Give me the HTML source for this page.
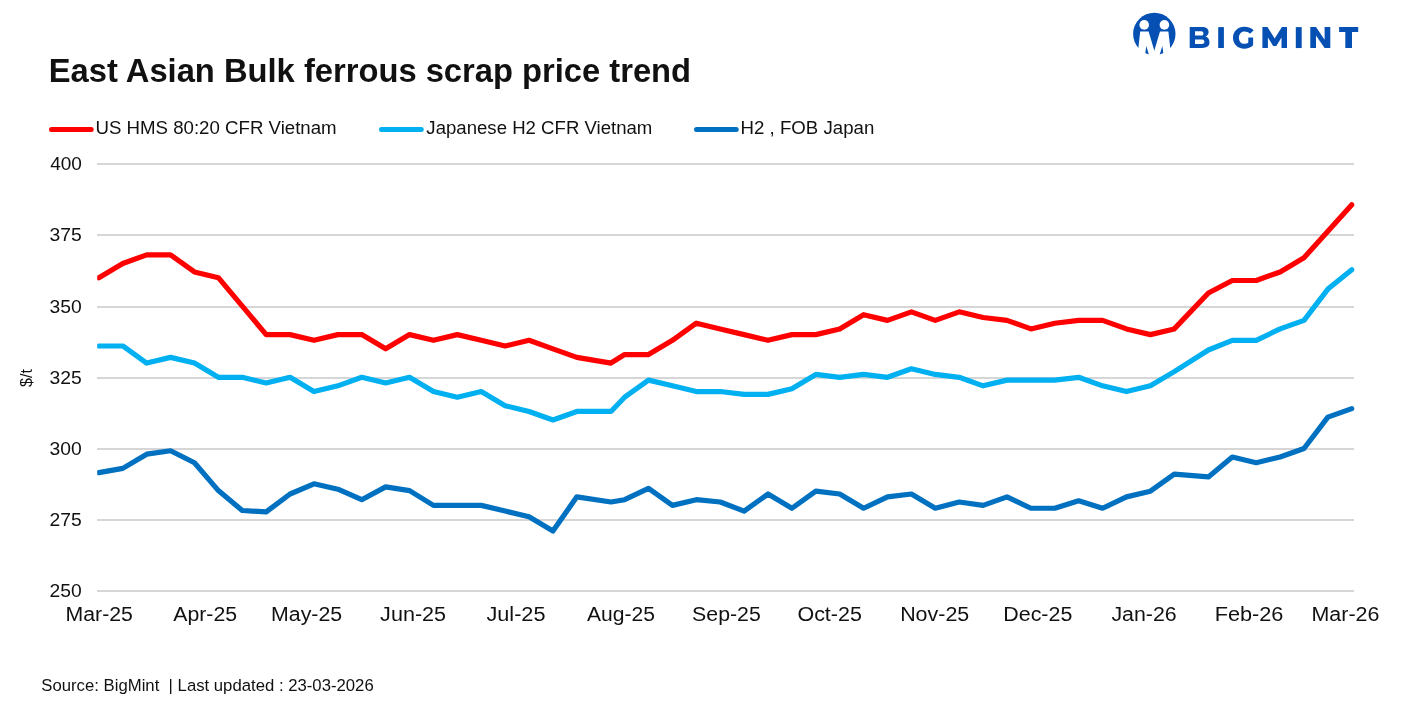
<!DOCTYPE html>
<html><head><meta charset="utf-8"><title>East Asian Bulk ferrous scrap price trend</title>
<style>
html,body{margin:0;padding:0;background:#fff;}
body{width:1417px;height:708px;overflow:hidden;}
svg{display:block;will-change:transform;}
text{font-family:"Liberation Sans",sans-serif;fill:#111;}
.yl{font-size:18.4px;}
.xl{font-size:20px;}
.lg{font-size:18.75px;}
</style></head>
<body>
<svg width="1417" height="708" viewBox="0 0 1417 708">
<rect width="1417" height="708" fill="#fff"/>
<defs>
<clipPath id="plot"><rect x="97.2" y="100" width="1257.5" height="520"/></clipPath>
<clipPath id="lc"><circle cx="1154.3" cy="33.9" r="21.2"/></clipPath>
</defs>
<!-- logo -->
<circle cx="1154.3" cy="33.9" r="21.2" fill="#0650b4"/>
<circle cx="1144.2" cy="24.9" r="4.8" fill="#fff"/>
<circle cx="1164.4" cy="24.9" r="4.8" fill="#fff"/>
<polygon points="1140.2,31.5 1148.6,31.5 1157.4,61 1136.9,61" fill="#fff"/>
<polygon points="1168.4,31.5 1160.0,31.5 1151.2,61 1171.7,61" fill="#fff"/>
<g clip-path="url(#lc)">
<polygon points="1146.3,45.9 1150.5,60 1144.3,60" fill="#0650b4"/>
<polygon points="1162.3,45.9 1158.1,60 1164.3,60" fill="#0650b4"/>
</g>
<g fill="#0650b4">
<path fill-rule="evenodd" d="M1189.7,27 L1202.5,27 C1206.5,27 1208.6,29.3 1208.6,32 C1208.6,34.2 1207.4,35.8 1205.6,36.6 C1208,37.4 1209.5,39.5 1209.5,42.2 C1209.5,45.8 1206.8,47.9 1202.3,47.9 L1189.7,47.9 Z M1195,31.3 L1201.5,31.3 C1202.8,31.3 1203.4,32.3 1203.4,33.4 C1203.4,34.6 1202.8,35.5 1201.5,35.5 L1195,35.5 Z M1195,39.5 L1202.3,39.5 C1203.6,39.5 1204.4,40.5 1204.4,41.8 C1204.4,43.1 1203.6,44 1202.3,44 L1195,44 Z"/>
<rect x="1218.2" y="27.1" width="5.7" height="20.9"/>
<path d="M1253.7,30.3 C1251.7,28.1 1248.2,26.77 1244.2,26.77 C1237.8,26.77 1232.97,31.5 1232.97,37.75 C1232.97,44 1237.8,48.7 1244.2,48.7 C1247.6,48.7 1251,47.5 1253.1,45.3 L1253.1,37.45 L1248.3,37.45 L1248.3,42.4 C1247.2,43.4 1245.8,43.85 1244.3,43.85 C1241.2,43.85 1238.9,41.3 1238.9,37.7 C1238.9,34.1 1241.2,31.5 1244.3,31.5 C1246.6,31.5 1248.8,32.3 1250,33.7 Z"/>
<polygon points="1262.4,48.05 1262.4,27.1 1267.5,27.1 1274.7,38.5 1281.9,27.1 1287,27.1 1287,48.05 1281.5,48.05 1281.5,37.4 1276.3,45.9 1273.1,45.9 1267.9,37.4 1267.9,48.05"/>
<rect x="1295.8" y="27.1" width="5.9" height="20.95"/>
<polygon points="1310.3,48.05 1310.3,27.1 1316,27.1 1324.6,39.7 1324.6,27.1 1330.3,27.1 1330.3,48.05 1324.6,48.05 1316,35.5 1316,48.05"/>
<polygon points="1339.1,27.1 1358.2,27.1 1358.2,31.9 1352,31.9 1352,48.05 1345.3,48.05 1345.3,31.9 1339.1,31.9"/>
</g>
<!-- title -->
<!-- legend -->
<line x1="51.5" y1="129.6" x2="91.2" y2="129.6" stroke="#ff0000" stroke-width="5" stroke-linecap="round"/>
<line x1="381.5" y1="129.6" x2="421.2" y2="129.6" stroke="#00b0f0" stroke-width="5" stroke-linecap="round"/>
<line x1="696.5" y1="129.6" x2="736.2" y2="129.6" stroke="#0070c0" stroke-width="5" stroke-linecap="round"/>
<!-- grid -->
<rect x="97" y="163" width="1257" height="2" fill="#d6d6d6"/><rect x="97" y="234" width="1257" height="2" fill="#d6d6d6"/><rect x="97" y="306" width="1257" height="2" fill="#d6d6d6"/><rect x="97" y="377" width="1257" height="2" fill="#d6d6d6"/><rect x="97" y="448" width="1257" height="2" fill="#d6d6d6"/><rect x="97" y="519" width="1257" height="2" fill="#d6d6d6"/><rect x="97" y="590" width="1257" height="2" fill="#d6d6d6"/>
<text x="48.81" y="82.40" font-size="32.6" font-weight="bold" textLength="642.28" lengthAdjust="spacingAndGlyphs" xml:space="preserve">East Asian Bulk ferrous scrap price trend</text>
<text x="95.44" y="133.70" font-size="18.75" textLength="241.19" lengthAdjust="spacingAndGlyphs" xml:space="preserve">US HMS 80:20 CFR Vietnam</text>
<text x="426.37" y="133.70" font-size="18.75" textLength="226.01" lengthAdjust="spacingAndGlyphs" xml:space="preserve">Japanese H2 CFR Vietnam</text>
<text x="740.61" y="133.70" font-size="18.75" textLength="133.65" lengthAdjust="spacingAndGlyphs" xml:space="preserve">H2 , FOB Japan</text>
<text x="41.32" y="691.00" font-size="16.9" textLength="332.37" lengthAdjust="spacingAndGlyphs" xml:space="preserve">Source: BigMint  | Last updated : 23-03-2026</text>
<text x="65.55" y="620.60" font-size="20" textLength="67.42" lengthAdjust="spacingAndGlyphs" xml:space="preserve">Mar-25</text>
<text x="173.29" y="620.60" font-size="20" textLength="63.82" lengthAdjust="spacingAndGlyphs" xml:space="preserve">Apr-25</text>
<text x="271.09" y="620.60" font-size="20" textLength="71.1" lengthAdjust="spacingAndGlyphs" xml:space="preserve">May-25</text>
<text x="380.1" y="620.60" font-size="20" textLength="65.99" lengthAdjust="spacingAndGlyphs" xml:space="preserve">Jun-25</text>
<text x="486.43" y="620.60" font-size="20" textLength="59.05" lengthAdjust="spacingAndGlyphs" xml:space="preserve">Jul-25</text>
<text x="587.07" y="620.60" font-size="20" textLength="67.91" lengthAdjust="spacingAndGlyphs" xml:space="preserve">Aug-25</text>
<text x="692.14" y="620.60" font-size="20" textLength="68.67" lengthAdjust="spacingAndGlyphs" xml:space="preserve">Sep-25</text>
<text x="797.45" y="620.60" font-size="20" textLength="64.41" lengthAdjust="spacingAndGlyphs" xml:space="preserve">Oct-25</text>
<text x="900.15" y="620.60" font-size="20" textLength="69.08" lengthAdjust="spacingAndGlyphs" xml:space="preserve">Nov-25</text>
<text x="1003.31" y="620.60" font-size="20" textLength="69.02" lengthAdjust="spacingAndGlyphs" xml:space="preserve">Dec-25</text>
<text x="1111.44" y="620.60" font-size="20" textLength="65.2" lengthAdjust="spacingAndGlyphs" xml:space="preserve">Jan-26</text>
<text x="1214.7" y="620.60" font-size="20" textLength="68.74" lengthAdjust="spacingAndGlyphs" xml:space="preserve">Feb-26</text>
<text x="1311.52" y="620.60" font-size="20" textLength="67.87" lengthAdjust="spacingAndGlyphs" xml:space="preserve">Mar-26</text>
<text x="49.62" y="597.30" font-size="18.4" textLength="32.2" lengthAdjust="spacingAndGlyphs" xml:space="preserve">250</text>
<text x="49.57" y="526.13" font-size="18.4" textLength="32.28" lengthAdjust="spacingAndGlyphs" xml:space="preserve">275</text>
<text x="49.59" y="454.97" font-size="18.4" textLength="32.21" lengthAdjust="spacingAndGlyphs" xml:space="preserve">300</text>
<text x="49.56" y="383.80" font-size="18.4" textLength="32.29" lengthAdjust="spacingAndGlyphs" xml:space="preserve">325</text>
<text x="49.59" y="312.63" font-size="18.4" textLength="32.21" lengthAdjust="spacingAndGlyphs" xml:space="preserve">350</text>
<text x="49.56" y="241.47" font-size="18.4" textLength="32.29" lengthAdjust="spacingAndGlyphs" xml:space="preserve">375</text>
<text x="50.18" y="170.30" font-size="18.4" textLength="31.75" lengthAdjust="spacingAndGlyphs" xml:space="preserve">400</text>
<text transform="translate(31.5,378) rotate(-90)" text-anchor="middle" font-size="16">$/t</text>
<g clip-path="url(#plot)" fill="none" stroke-width="5.2" stroke-linejoin="round" stroke-linecap="round">
<polyline points="98.89,277.67 122.78,263.43 146.68,254.89 170.58,254.89 194.47,271.97 218.37,277.67 242.27,306.13 266.17,334.60 290.06,334.60 313.96,340.29 337.86,334.60 361.76,334.60 385.65,348.83 409.55,334.60 433.45,340.29 457.34,334.60 481.24,340.29 505.14,345.99 529.04,340.29 552.93,348.83 576.83,357.37 610.97,363.07 624.63,354.53 648.52,354.53 672.42,340.29 696.32,323.21 720.21,328.91 744.11,334.60 768.01,340.29 791.91,334.60 815.80,334.60 839.70,328.91 863.60,314.67 887.50,320.37 911.39,311.83 935.29,320.37 959.19,311.83 983.09,317.52 1006.98,320.37 1030.88,328.91 1054.78,323.21 1078.67,320.37 1102.57,320.37 1126.47,328.91 1150.37,334.60 1174.26,328.91 1208.40,293.04 1232.30,280.51 1256.20,280.51 1280.09,271.97 1303.99,257.74 1327.89,231.27 1351.79,204.79" stroke="#ff0000"/>
<polyline points="98.89,345.99 122.78,345.99 146.68,363.07 170.58,357.37 194.47,363.07 218.37,377.30 242.27,377.30 266.17,382.99 290.06,377.30 313.96,391.53 337.86,385.84 361.76,377.30 385.65,382.99 409.55,377.30 433.45,391.53 457.34,397.23 481.24,391.53 505.14,405.77 529.04,411.46 552.93,420.00 576.83,411.46 610.97,411.46 624.63,397.23 648.52,380.15 672.42,385.84 696.32,391.53 720.21,391.53 744.11,394.38 768.01,394.38 791.91,388.69 815.80,374.45 839.70,377.30 863.60,374.45 887.50,377.30 911.39,368.76 935.29,374.45 959.19,377.30 983.09,385.84 1006.98,380.15 1030.88,380.15 1054.78,380.15 1078.67,377.30 1102.57,385.84 1126.47,391.53 1150.37,385.84 1174.26,371.61 1208.40,349.97 1232.30,340.29 1256.20,340.29 1280.09,328.91 1303.99,320.37 1327.89,289.05 1351.79,269.70" stroke="#00b0f0"/>
<polyline points="98.89,472.66 122.78,468.39 146.68,454.16 170.58,450.74 194.47,462.70 218.37,490.60 242.27,510.52 266.17,511.95 290.06,494.01 313.96,483.77 337.86,489.17 361.76,499.71 385.65,486.90 409.55,490.60 433.45,505.40 457.34,505.40 481.24,505.40 505.14,511.09 529.04,516.79 552.93,531.02 576.83,496.86 610.97,501.98 624.63,499.71 648.52,488.32 672.42,505.40 696.32,499.71 720.21,501.98 744.11,511.09 768.01,494.01 791.91,508.25 815.80,491.17 839.70,494.01 863.60,508.25 887.50,496.86 911.39,494.01 935.29,508.25 959.19,501.98 983.09,505.40 1006.98,496.86 1030.88,508.25 1054.78,508.25 1078.67,500.85 1102.57,508.25 1126.47,496.86 1150.37,491.17 1174.26,474.09 1208.40,476.93 1232.30,457.01 1256.20,462.70 1280.09,457.01 1303.99,448.47 1327.89,417.15 1351.79,408.61" stroke="#0070c0"/>
</g>
</svg>
</body></html>
